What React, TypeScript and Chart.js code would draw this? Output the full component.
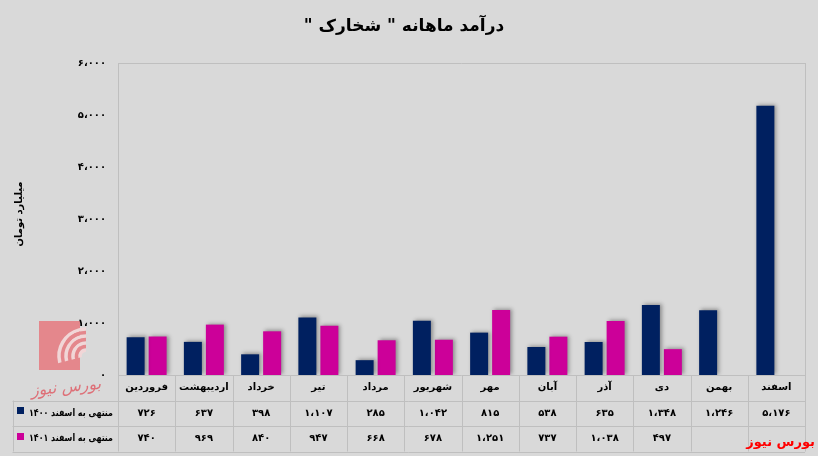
import React, { useEffect, useRef } from "react";
import { Chart, registerables } from "chart.js";

Chart.register(...registerables);

const chartTitle = 'درآمد ماهانه " شخارک "';
const yAxisTitle = "میلیارد تومان";
const categories = ["فروردین", "اردیبهشت", "خرداد", "تیر", "مرداد", "شهریور", "مهر", "آبان", "آذر", "دی", "بهمن", "اسفند"];
const seriesNames = ["منتهی به اسفند ۱۴۰۰", "منتهی به اسفند ۱۴۰۱"];
const series1400: (number | null)[] = [726, 637, 398, 1107, 285, 1042, 815, 538, 635, 1348, 1246, 5176];
const series1401: (number | null)[] = [740, 969, 840, 947, 668, 678, 1251, 737, 1038, 497, null, null];
const yMin = 0;
const yMax = 6000;
const yStep = 1000;
const sourceLabel = "بورس نیوز";

const seriesColors = ["#002060", "#cc0099"];
const FONT = "DejaVu Sans";
const BG = "#d9d9d9";
const LINE = "#bfbfbf";

const faDigits = "۰۱۲۳۴۵۶۷۸۹";
function fa(n: number): string {
  const s = String(Math.round(n)).replace(/\B(?=(\d{3})+(?!\d))/g, "،");
  return s.replace(/\d/g, (d) => faDigits[+d]);
}

function fitText(ctx: CanvasRenderingContext2D, text: string, xRight: number, y: number, maxW: number) {
  const m = ctx.measureText(text).width;
  const sx = m > maxW ? maxW / m : 1;
  ctx.save();
  ctx.translate(xRight, y);
  ctx.scale(sx, 1);
  ctx.textAlign = "right";
  ctx.fillText(text, 0, 0);
  ctx.restore();
}

const decorPlugin = {
  id: "decor",
  beforeDraw(chart: any) {
    const ctx = chart.ctx as CanvasRenderingContext2D;
    ctx.save();
    ctx.fillStyle = BG;
    ctx.fillRect(0, 0, chart.width, chart.height);
    // watermark logo
    const pink = "#e4878c";
    ctx.fillStyle = pink;
    ctx.fillRect(39, 321, 41, 49);
    const cx = 86, cy = 356;
    ctx.lineCap = "butt";
    // light gaps
    ctx.strokeStyle = "#f1d6d7";
    ctx.lineWidth = 3.5;
    [6, 13, 20, 27].forEach((r) => {
      ctx.beginPath();
      ctx.arc(cx, cy, r, Math.PI * 0.92, Math.PI * 1.5);
      ctx.stroke();
    });
    // pink bands extending right
    ctx.strokeStyle = pink;
    ctx.lineWidth = 3.5;
    [9.5, 16.5, 23.5].forEach((r) => {
      ctx.beginPath();
      ctx.arc(cx, cy, r, Math.PI * 1.2, Math.PI * 1.5);
      ctx.stroke();
    });
    ctx.translate(66, 388);
    ctx.rotate(-0.1);
    ctx.direction = "rtl";
    ctx.textAlign = "center";
    ctx.textBaseline = "middle";
    ctx.font = `italic 16px ${FONT}`;
    ctx.fillStyle = "rgba(222,85,95,0.8)";
    ctx.fillText(sourceLabel, 0, 0);
    ctx.restore();
  },
  beforeDatasetsDraw(chart: any) {
    const ctx = chart.ctx as CanvasRenderingContext2D;
    ctx.save();
    ctx.shadowColor = "rgba(0,0,0,0.35)";
    ctx.shadowBlur = 4;
    ctx.shadowOffsetX = 2;
    ctx.shadowOffsetY = -1;
  },
  afterDatasetsDraw(chart: any) {
    chart.ctx.restore();
  },
  afterDraw(chart: any) {
    const ctx = chart.ctx as CanvasRenderingContext2D;
    const { left, right, top, bottom } = chart.chartArea;
    const n = categories.length;
    const w = (right - left) / n;
    const rowH = 25.5;
    const tableBottom = bottom + rowH * 3;
    const legendLeft = 12.5;
    ctx.save();
    ctx.strokeStyle = LINE;
    ctx.lineWidth = 1;
    const hl = (x1: number, x2: number, y: number) => {
      ctx.beginPath();
      ctx.moveTo(x1, Math.round(y) + 0.5);
      ctx.lineTo(x2, Math.round(y) + 0.5);
      ctx.stroke();
    };
    const vl = (x: number, y1: number, y2: number) => {
      ctx.beginPath();
      ctx.moveTo(Math.round(x) + 0.5, y1);
      ctx.lineTo(Math.round(x) + 0.5, y2);
      ctx.stroke();
    };
    // plot border
    hl(left, right, top);
    vl(left, top, tableBottom);
    vl(right, top, tableBottom);
    // table
    hl(left, right, bottom);
    hl(legendLeft, right, bottom + rowH);
    hl(legendLeft, right, bottom + rowH * 2);
    hl(legendLeft, right, tableBottom);
    vl(legendLeft, bottom + rowH, tableBottom);
    for (let i = 1; i < n; i++) vl(left + w * i, bottom, tableBottom);

    ctx.fillStyle = "#000";
    ctx.textAlign = "center";
    ctx.textBaseline = "middle";
    ctx.direction = "rtl";
    ctx.font = `bold 10px ${FONT}`;
    const rows = [series1400, series1401];
    for (let i = 0; i < n; i++) {
      const cx = left + w * (i + 0.5);
      ctx.fillText(categories[i], cx, bottom + rowH * 0.5);
      rows.forEach((arr, r) => {
        const v = arr[i];
        if (v !== null && v !== undefined) {
          ctx.direction = "ltr";
          ctx.fillText(fa(v), cx, bottom + rowH * (r + 1.5));
          ctx.direction = "rtl";
        }
      });
    }
    // legend column
    seriesNames.forEach((name, r) => {
      const cy = bottom + rowH * (r + 1.5);
      ctx.fillStyle = seriesColors[r];
      ctx.fillRect(17, Math.round(cy) - 6, 7, 7);
      ctx.fillStyle = "#000";
      ctx.direction = "rtl";
      ctx.font = `bold 10px ${FONT}`;
      fitText(ctx, name, left - 5, cy, 84);
    });
    // title
    ctx.textAlign = "center";
    ctx.direction = "rtl";
    ctx.font = `bold 17px ${FONT}`;
    ctx.fillText(chartTitle, 404, 27);
    // y axis title
    ctx.save();
    ctx.translate(19, 214);
    ctx.rotate(-Math.PI / 2);
    ctx.font = `bold 10px ${FONT}`;
    ctx.fillText(yAxisTitle, 0, 0);
    ctx.restore();
    // source label
    ctx.textAlign = "right";
    ctx.fillStyle = "#ff0000";
    ctx.font = `bold 13px ${FONT}`;
    ctx.fillText(sourceLabel, 815, 443);
    ctx.restore();
  },
};

export default function App() {
  const ref = useRef<HTMLCanvasElement | null>(null);
  useEffect(() => {
    if (!ref.current) return;
    const chart = new Chart(ref.current, {
      type: "bar",
      data: {
        labels: categories,
        datasets: [
          { label: seriesNames[0], data: series1400, backgroundColor: seriesColors[0], borderWidth: 0 },
          { label: seriesNames[1], data: series1401, backgroundColor: seriesColors[1], borderWidth: 0 },
        ],
      },
      options: {
        responsive: false,
        animation: false,
        devicePixelRatio: 1,
        layout: { padding: { left: 0, top: 63, right: 13, bottom: 81 } },
        datasets: { bar: { categoryPercentage: 0.7686, barPercentage: 0.818 } },
        plugins: { legend: { display: false }, title: { display: false }, tooltip: { enabled: false } },
        scales: {
          x: { display: false },
          y: {
            min: yMin,
            max: yMax,
            ticks: {
              stepSize: yStep,
              callback: (v: any) => fa(Number(v)),
              font: { family: FONT, weight: "bold", size: 10 },
              color: "#000",
              padding: 12,
            },
            grid: { display: false, drawTicks: false },
            border: { display: false },
            afterFit: (s: any) => {
              s.width = 118;
            },
          },
        },
      } as any,
      plugins: [decorPlugin],
    });
    return () => chart.destroy();
  }, []);
  return (
    <div style={{ position: "absolute", left: 0, top: 0, width: 818, height: 456, background: BG }}>
      <canvas ref={ref} width={818} height={456} style={{ display: "block", width: 818, height: 456 }} />
    </div>
  );
}
